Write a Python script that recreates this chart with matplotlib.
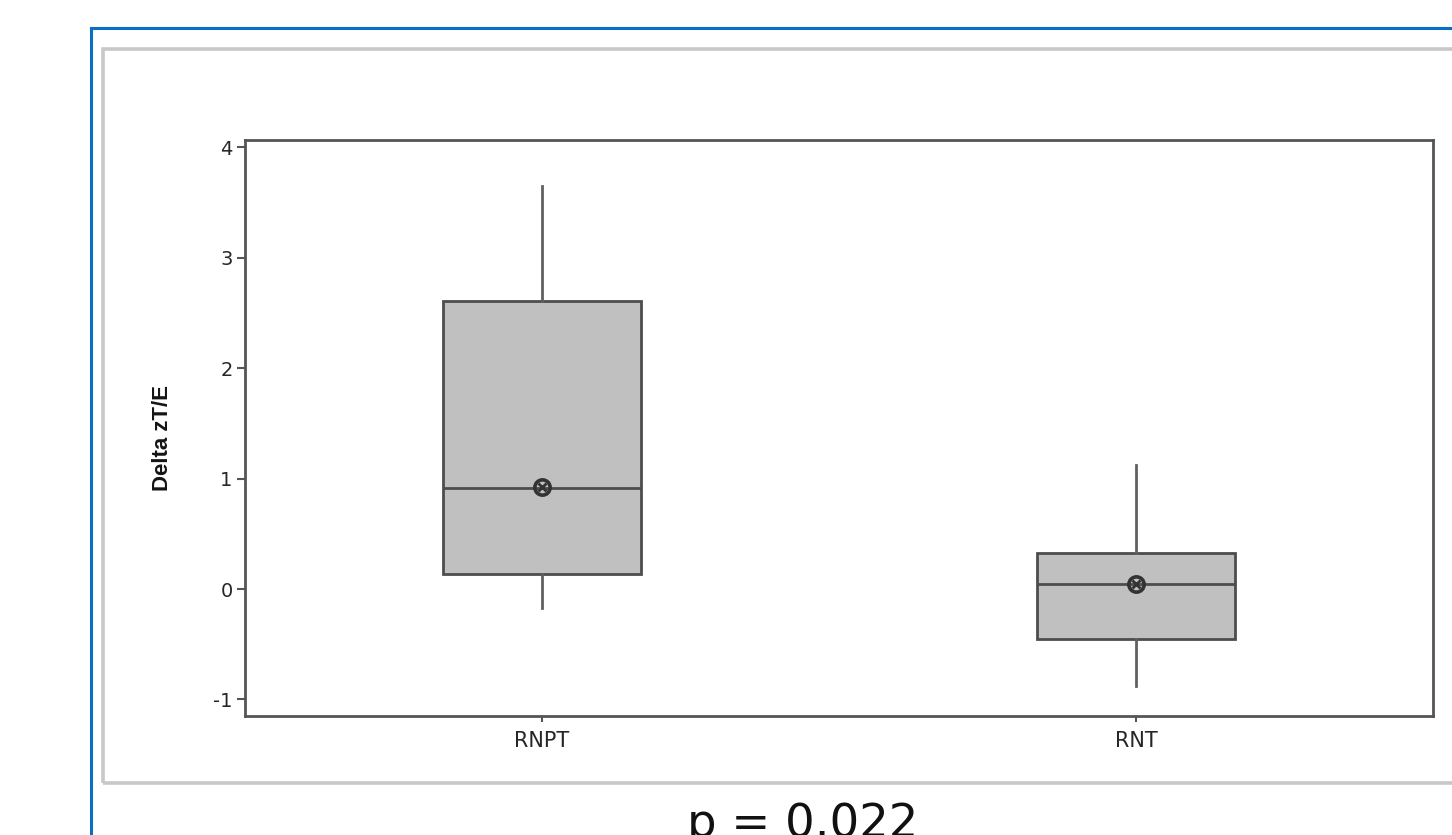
import matplotlib
matplotlib.use("Agg")
import matplotlib.pyplot as plt
from matplotlib.patches import Rectangle

categories = ["RNPT", "RNT"]
whisker_low = [-0.17, -0.88]
q1 = [0.136, -0.453]
median = [0.915, 0.045]
q3 = [2.61, 0.326]
whisker_high = [3.65, 1.12]
mean = [0.92, 0.045]
yticks = [-1, 0, 1, 2, 3, 4]
ylabel = "Delta zT/E"
ptext = "p = 0.022"

W, H = 1452, 835
fig = plt.figure(figsize=(W / 100, H / 100), dpi=100)
fig.patch.set_facecolor("white")

def fx(px):
    return px / W

def fy(py):
    return (H - py) / H

# outer blue frame
fig.add_artist(Rectangle((fx(91), fy(H + 20)), fx(W + 50 - 91), fy(28) - fy(H + 20),
                         transform=fig.transFigure, fill=False,
                         edgecolor="#0A6FC2", linewidth=2.2, zorder=0))
# gray panel frame
fig.add_artist(Rectangle((fx(103), fy(783)), fx(W + 50 - 103), fy(49) - fy(783),
                         transform=fig.transFigure, fill=False,
                         edgecolor="#c8c8c8", linewidth=2.6, zorder=0))

ax = fig.add_axes([fx(245), fy(716), fx(1433 - 245), fy(140) - fy(716)])

stats = []
for i, c in enumerate(categories):
    stats.append(dict(label=c, whislo=whisker_low[i], q1=q1[i], med=median[i],
                      q3=q3[i], whishi=whisker_high[i], mean=mean[i], fliers=[]))

edge = "#4d4d4d"
positions = list(range(1, len(categories) + 1))
ax.bxp(stats, positions=positions, widths=0.335, patch_artist=True,
       showcaps=False, showmeans=False, showfliers=False,
       boxprops=dict(facecolor="#c0c0c0", edgecolor=edge, linewidth=2.0),
       whiskerprops=dict(color="#606060", linewidth=2.0),
       medianprops=dict(color=edge, linewidth=2.0))

ax.plot(positions, mean, linestyle="none", marker="o", markersize=11,
        markerfacecolor="none", markeredgecolor="#333333", markeredgewidth=2.6, zorder=5)
ax.plot(positions, mean, linestyle="none", marker="x", markersize=6,
        markeredgecolor="#333333", markeredgewidth=2.0, zorder=5)

ax.set_xlim(0.5, 2.5)
ax.set_ylim(-1.15, 4.067)
ax.set_yticks(yticks)
ax.set_yticklabels([str(t) for t in yticks], fontsize=14, color="#262626",
                   family="DejaVu Sans")
ax.set_xticks(positions)
ax.set_xticklabels(categories, fontsize=15, color="#262626", family="DejaVu Sans")
for s in ax.spines.values():
    s.set_color("#555555")
    s.set_linewidth(2.0)
ax.tick_params(axis="y", direction="out", length=6, width=1.5, color="#555555", pad=3)
ax.tick_params(axis="x", direction="out", length=4, width=1.5, color="#555555", pad=7)

fig.text(fx(163), fy(438), ylabel, rotation=90, ha="center", va="center",
         fontsize=16, fontweight="bold", family="Liberation Sans", color="#141414")

fig.text(fx(803), fy(837), ptext, ha="center", va="baseline",
         fontsize=33.5, family="DejaVu Sans", color="#111111")

fig.savefig("out.png", dpi=100)
